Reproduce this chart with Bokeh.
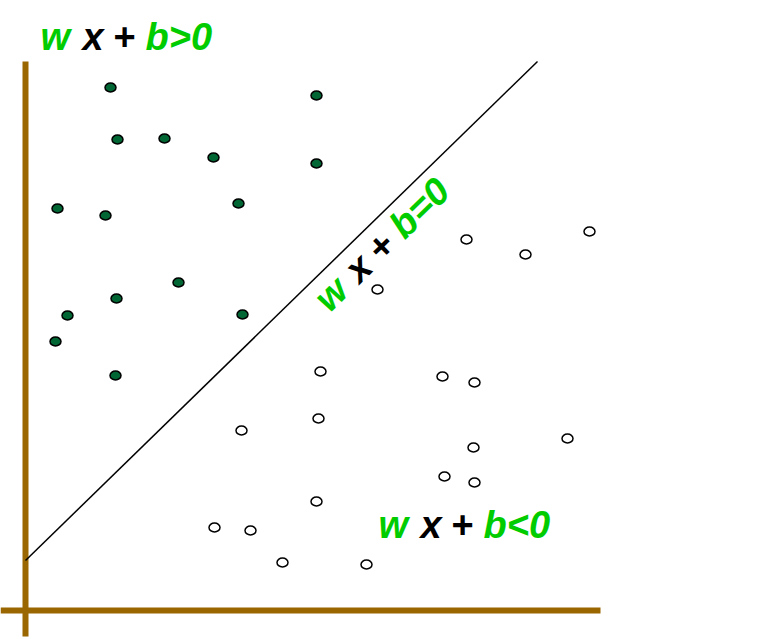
import math
from bokeh.plotting import figure
from bokeh.models import Range1d
from bokeh.core.properties import value
from bokeh.embed import file_html
from bokeh.resources import INLINE

# ---- data (origin at the crossing of the two brown axes) ----
pos_x = [85, 291, 92, 139, 188, 291, 32, 80, 213, 153, 91, 42, 217, 30, 90]
pos_y = [523, 515, 471, 472, 453, 447, 402, 395, 407, 328, 312, 295, 296, 269, 235]

neg_x = [441, 500, 564, 352, 295, 417, 449, 293, 216, 448, 542, 419, 449, 291, 189, 225, 257, 341]
neg_y = [371, 356, 379, 321, 239, 234, 228, 192, 180, 163, 172, 134, 128, 109, 83, 80, 48, 46]

boundary_x = [0, 512]
boundary_y = [50, 549]

axis_h_x = [-25, 575]
axis_h_y = [0, 0]
axis_v_x = [0, 0]
axis_v_y = [549, -26]

label_parts = ["w", "x", "+"]
label_pos_tail = "b>0"
label_neg_tail = "b<0"
label_zero_tail = "b=0"
label_colors = ["#00CC00", "#000000", "#000000", "#00CC00"]

GREEN = "#00CC00"
BROWN = "#996600"
DOT = "#006633"

p = figure(width=763, height=639, x_range=Range1d(-25, 738), y_range=Range1d(-29, 610),
           output_backend="svg", toolbar_location=None, x_axis_location=None,
           y_axis_location=None, min_border=0, outline_line_color=None)
p.grid.visible = False
p.background_fill_color = "white"
p.border_fill_color = "white"

# brown axes
p.line(axis_h_x, axis_h_y, line_color=BROWN, line_width=6, line_cap="butt")
p.line(axis_v_x, axis_v_y, line_color=BROWN, line_width=6, line_cap="butt")

# separating hyperplane
p.line(boundary_x, boundary_y, line_color="black", line_width=1.5)

# points
p.ellipse(pos_x, pos_y, width=11, height=9, fill_color=DOT, line_color="black", line_width=1.5)
p.ellipse(neg_x, neg_y, width=11, height=9, fill_color="white", line_color="black", line_width=1.5)

FONT = value("Liberation Sans")
SIZE = "38px"
offsets = [0, 42, 73, 105]


def label(x0, y0, tail, angle=0.0):
    texts = label_parts + [tail]
    c, s = math.cos(angle), math.sin(angle)
    for t, off, col in zip(texts, offsets, label_colors):
        style = "bold" if t == "+" else "bold italic"
        p.text(x=[x0 + off * c], y=[y0 + off * s], text=[t], angle=angle,
               text_color=col, text_font=FONT, text_font_size=SIZE,
               text_font_style=style, text_align="left", text_baseline="alphabetic")


label(15, 574, label_pos_tail)
label(353, 86, label_neg_tail)
ang = math.atan2(boundary_y[1] - boundary_y[0], boundary_x[1] - boundary_x[0])
label(295, 306, label_zero_tail, ang)

open("out.html", "w").write(file_html(p, INLINE))
